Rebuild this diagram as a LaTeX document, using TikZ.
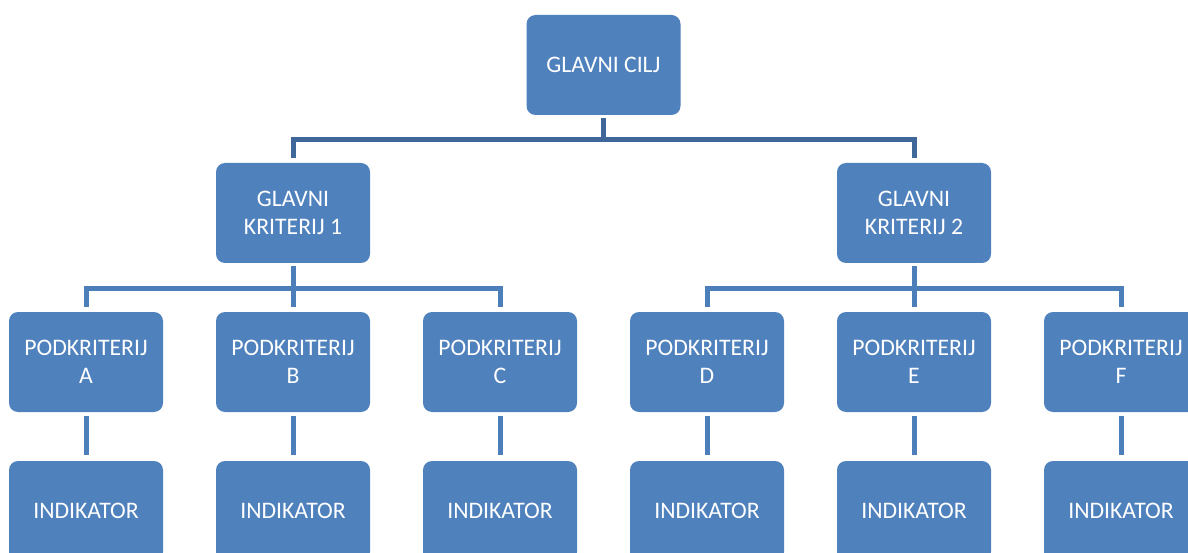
\documentclass[tikz,border=0pt]{standalone}
\usepackage{fontspec}
\setmainfont{Carlito}
\definecolor{boxblue}{RGB}{79,129,189}
\definecolor{topline}{RGB}{63,103,153}
\definecolor{subline}{RGB}{76,126,186}
\tikzset{
  box/.style={fill=boxblue, draw=none, rounded corners=9pt,
    minimum width=154pt, minimum height=100pt, inner sep=0pt, outer sep=0pt,
    text=white, align=center, font=\fontsize{23.7}{28}\selectfont},
  conn/.style={line width=5pt, line join=miter},
  upper/.style={conn, draw=topline},
  lower/.style={conn, draw=subline},
}
\begin{document}
\begin{tikzpicture}[x=1pt,y=-1pt]
\useasboundingbox (0,0) rectangle (1188,553);
\clip (0,0) rectangle (1188,553);

% goal
\node[box] (goal) at (603.5,65) {GLAVNI CILJ};
% main criteria
\node[box] (k1) at (293,213) {GLAVNI\\KRITERIJ 1};
\node[box] (k2) at (914,213) {GLAVNI\\KRITERIJ 2};
% sub-criteria
\node[box] (pa) at (86,362)   {PODKRITERIJ\\A};
\node[box] (pb) at (293,362)  {PODKRITERIJ\\B};
\node[box] (pc) at (500,362)  {PODKRITERIJ\\C};
\node[box] (pd) at (707,362)  {PODKRITERIJ\\D};
\node[box] (pe) at (914,362)  {PODKRITERIJ\\E};
\node[box] (pf) at (1121,362) {PODKRITERIJ\\F};
% indicators
\node[box] (ia) at (86,511)   {INDIKATOR};
\node[box] (ib) at (293,511)  {INDIKATOR};
\node[box] (ic) at (500,511)  {INDIKATOR};
\node[box] (id) at (707,511)  {INDIKATOR};
\node[box] (ie) at (914,511)  {INDIKATOR};
\node[box] (if) at (1121,511) {INDIKATOR};

% bus lines
\coordinate (bus0) at (603.5,139.5);
\coordinate (bus1) at (293,288);
\coordinate (bus2) at (914,288);

% goal -> main criteria
\draw[upper, shorten <=3pt] (goal.south) -- (bus0);
\draw[upper, shorten <=5pt, shorten >=5pt] (k1.north) |- (bus0) -| (k2.north);

% main criterion 1 -> sub-criteria A, B, C
\draw[lower, shorten <=3pt, shorten >=5pt] (k1.south) -- (pb.north);
\draw[lower, shorten <=5pt, shorten >=5pt] (pa.north) |- (bus1) -| (pc.north);

% main criterion 2 -> sub-criteria D, E, F
\draw[lower, shorten <=3pt, shorten >=5pt] (k2.south) -- (pe.north);
\draw[lower, shorten <=5pt, shorten >=5pt] (pd.north) |- (bus2) -| (pf.north);

% sub-criteria -> indicators
\foreach \s/\t in {pa/ia,pb/ib,pc/ic,pd/id,pe/ie,pf/if}
  \draw[lower, shorten <=4pt, shorten >=6pt] (\s.south) -- (\t.north);
\end{tikzpicture}
\end{document}
